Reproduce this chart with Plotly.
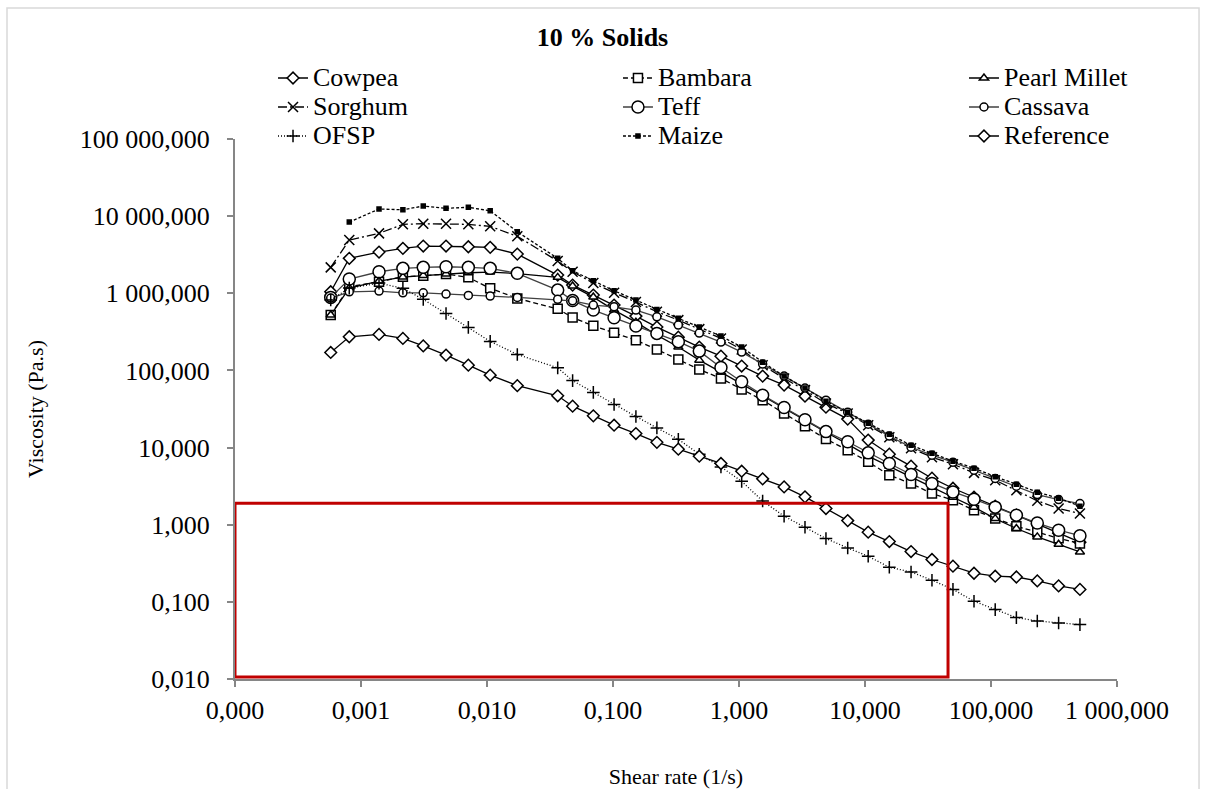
import plotly.graph_objects as go

# ---------------- data ----------------
shear_rate = [0.000575, 0.000807, 0.00139, 0.00215, 0.00312, 0.00473, 0.00711, 0.0106,
              0.0174, 0.0364, 0.0478, 0.0698, 0.102, 0.152, 0.223, 0.330, 0.484, 0.719,
              1.05, 1.54, 2.28, 3.34, 4.90, 7.29, 10.6, 15.6, 23.2, 34.0, 49.9, 73.3,
              108, 159, 233, 344, 508]

cowpea = [1046, 2836, 3423, 3823, 4097, 4097, 4012, 3939, 3225, 1722,
          1278, 948, 703, 506, 365, 270, 201, 153, 114, 84.4,
          64.5, 46.4, 33.4, 23.4, 12.5, 8.21, 5.74, 4.01, 2.97, 2.27,
          1.74, 1.33, 1.02, 0.776, 0.593]
bambara = [522, 1215, 1411, 1637, 1687, 1775, 1608, 1158, 859, 628,
           484, 379, 307, 247, 187, 139, 103, 78.8, 56.7, 41.2,
           27.7, 18.9, 12.9, 9.26, 6.53, 4.39, 3.42, 2.54, 2.08, 1.54,
           1.20, 0.956, 0.800, 0.668, 0.571]
pearl_millet = [522, 1168, 1440, 1623, 1697, 1775, 1845, 1884, 1801, 1608,
                1240, 893, 606, 423, 287, 201, 136, 95.1, 66.4, 46.4,
                32.4, 22.7, 15.8, 11.1, 7.74, 5.74, 4.13, 3.07, 2.27, 1.69,
                1.20, 0.893, 0.695, 0.559, 0.444]
sorghum = [2168, 4899, 5984, 7830, 7972, 7972, 7830, 7376, 5472, 2616,
           1901, 1357, 1015, 769, 576, 449, 343, 260, 187, 117,
           78.8, 55.5, 37.3, 27.7, 19.5, 13.6, 9.82, 7.51, 6.09, 4.70,
           3.78, 2.80, 2.04, 1.62, 1.40]
teff = [885, 1529, 1901, 2104, 2168, 2207, 2168, 2104, 1813, 1100,
        804, 606, 481, 376, 302, 236, 178, 109, 71.2, 47.8,
        33.1, 23.0, 16.1, 11.9, 8.54, 6.22, 4.48, 3.42, 2.66, 2.14,
        1.69, 1.33, 1.05, 0.849, 0.720]
cassava = [867, 1046, 1068, 1015, 1015, 976, 939, 920, 885, 834,
           799, 703, 668, 606, 496, 387, 305, 233, 173, 121,
           84.4, 59.0, 41.2, 28.8, 20.1, 14.1, 10.1, 7.97, 6.47, 5.09,
           3.98, 3.16, 2.46, 2.12, 1.88]
ofsp = [817, 1167, 1355, 1159, 834, 548, 361, 238, 161, 108,
        73.8, 51.9, 36.2, 25.3, 18.0, 12.8, 8.20, 5.62, 3.65, 2.03,
        1.29, 0.929, 0.662, 0.500, 0.390, 0.281, 0.244, 0.191, 0.145, 0.102,
        0.0794, 0.0625, 0.0565, 0.0532, 0.0507]
maize = [None, 8385, 12370, 12110, 13530, 12630, 13010, 11750, 6280, 2836,
         1958, 1453, 1078, 816, 618, 473, 365, 279, 201, 128,
         84.4, 59.0, 40.0, 28.8, 20.7, 14.9, 10.7, 8.46, 6.66, 5.41,
         4.19, 3.35, 2.64, 2.21, 1.74]
reference = [171, 273, 293, 260, 208, 158, 117, 86.9, 63.5, 46.9,
             34.4, 25.8, 19.5, 15.2, 11.7, 9.53, 7.73, 6.22, 4.94, 3.93,
             3.09, 2.30, 1.62, 1.13, 0.80, 0.605, 0.449, 0.354, 0.290, 0.235,
             0.215, 0.210, 0.187, 0.161, 0.145]

series_names = ["Cowpea", "Bambara", "Pearl Millet", "Sorghum", "Teff",
                "Cassava", "OFSP", "Maize", "Reference"]
series_values = [cowpea, bambara, pearl_millet, sorghum, teff,
                 cassava, ofsp, maize, reference]

x_tick_vals = [0.0001, 0.001, 0.01, 0.1, 1, 10, 100, 1000]
x_tick_text = ["0,000", "0,001", "0,010", "0,100", "1,000", "10,000", "100,000", "1 000,000"]
y_tick_vals = [0.01, 0.1, 1, 10, 100, 1000, 10000, 100000]
y_tick_text = ["0,010", "0,100", "1,000", "10,000", "100,000", "1 000,000",
               "10 000,000", "100 000,000"]

# highlighted region (red box) in data units
highlight_x = [0.0001, 45.6]
highlight_y = [0.0106, 1.9]

# ---------------- styling ----------------
FONT = "Liberation Serif"
AXIS_GREY = "#868686"

styles = {
    "Cowpea":       dict(dash="solid", lc="black", sym="diamond", size=9, fill="white", lg="legend"),
    "Bambara":      dict(dash="5px,3px", lc="black", sym="square", size=9, fill="white", lg="legend2"),
    "Pearl Millet": dict(dash="solid", lc="black", sym="triangle-up", size=8, fill="white", lg="legend3"),
    "Sorghum":      dict(dash="9px,3px,2px,3px", lc="black", sym="x-thin", size=10, fill="black", lg="legend"),
    "Teff":         dict(dash="solid", lc="#404040", sym="circle", size=12, fill="white", lg="legend2"),
    "Cassava":      dict(dash="solid", lc="#404040", sym="circle", size=8, fill="white", lg="legend3"),
    "OFSP":         dict(dash="1px,2px", lc="black", sym="cross-thin", size=9, fill="black", lg="legend"),
    "Maize":        dict(dash="3px,2px", lc="black", sym="square", size=4, fill="black", lg="legend2"),
    "Reference":    dict(dash="solid", lc="black", sym="diamond", size=9, fill="white", lg="legend3"),
}

fig = go.Figure()
for name, vals in zip(series_names, series_values):
    s = styles[name]
    fig.add_trace(go.Scatter(
        x=shear_rate, y=vals,
        name="<span style='font-size:26px'>" + name + "</span>",
        mode="lines+markers",
        line=dict(color=s["lc"], width=1.3, dash=s["dash"]),
        marker=dict(symbol=s["sym"], size=s["size"], color=s["fill"],
                    line=dict(color="black", width=1.5)),
        legend=s["lg"], connectgaps=False,
    ))

tickfont = dict(family=FONT, size=26, color="black")

fig.update_layout(
    width=1205, height=789, autosize=False,
    margin=dict(l=235, r=88, t=139, b=110),
    paper_bgcolor="white", plot_bgcolor="white",
    font=dict(family=FONT, color="black"),
    title=dict(text="<b>10 % Solids</b>", x=0.5, xref="container", xanchor="center",
               y=1 - 37 / 789, yref="container", yanchor="middle",
               font=dict(family=FONT, size=26, color="black")),
    xaxis=dict(type="log", range=[-4, 3], showgrid=False, zeroline=False,
               showline=True, linecolor=AXIS_GREY, linewidth=2, automargin=False,
               ticks="outside", ticklen=6, tickwidth=2, tickcolor=AXIS_GREY,
               tickvals=x_tick_vals, ticktext=x_tick_text, tickfont=tickfont,
               ticklabelstandoff=1,
               title=dict(text="Shear rate (1/s)", standoff=48,
                          font=dict(family=FONT, size=22, color="black"))),
    yaxis=dict(type="log", range=[-2, 5], showgrid=False, zeroline=False,
               showline=True, linecolor=AXIS_GREY, linewidth=2, automargin=False,
               ticks="outside", ticklen=6, tickwidth=2, tickcolor=AXIS_GREY,
               tickvals=y_tick_vals, ticktext=y_tick_text, tickfont=tickfont,
               ticklabelstandoff=12,
               title=dict(text="Viscosity (Pa.s)", standoff=30,
                          font=dict(family=FONT, size=22, color="black"))),
    xaxis2=dict(type="log", range=[-4, 3], overlaying="x", anchor="y", side="bottom",
                showgrid=False, zeroline=False, showline=False, automargin=False,
                ticks="inside", ticklen=6, tickwidth=2, tickcolor=AXIS_GREY,
                tickvals=x_tick_vals, showticklabels=False),
    yaxis2=dict(type="log", range=[-2, 5], overlaying="y", anchor="x", side="left",
                showgrid=False, zeroline=False, showline=False, automargin=False,
                ticks="inside", ticklen=6, tickwidth=2, tickcolor=AXIS_GREY,
                tickvals=y_tick_vals, showticklabels=False),
    showlegend=True,
)

legend_common = dict(xanchor="left", yanchor="top", orientation="v",
                     bgcolor="rgba(0,0,0,0)", borderwidth=0, tracegroupgap=0,
                     font=dict(family=FONT, size=20, color="black"))
fig.update_layout(
    legend=dict(x=0.0431, y=1.1491, **legend_common),
    legend2=dict(x=0.4342, y=1.1491, **legend_common),
    legend3=dict(x=0.8265, y=1.1491, **legend_common),
)

# outer chart frame
fig.add_shape(type="rect", xref="paper", yref="paper",
              x0=-0.2585, x1=1.093, y0=-0.26, y1=1.2426,
              line=dict(color="#D9D9D9", width=1.5), layer="below")
# red highlight box
fig.add_shape(type="rect", xref="x", yref="y",
              x0=highlight_x[0], x1=highlight_x[1], y0=highlight_y[0], y1=highlight_y[1],
              line=dict(color="#C00000", width=3), layer="above")

fig.write_html("out.html")
